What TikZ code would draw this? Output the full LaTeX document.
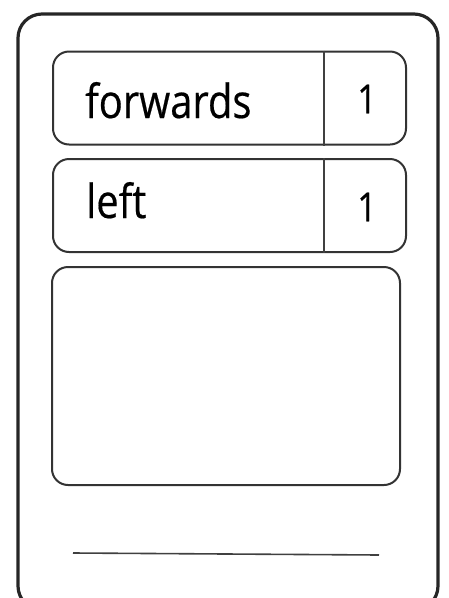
\documentclass[tikz,border=0pt]{standalone}
\usepackage{fontspec}
\setmainfont{Open Sans}
\newfontfamily\cardfont[FakeStretch=0.85, FakeBold=0.4]{Open Sans}
\usetikzlibrary{positioning}

\begin{document}
\begin{tikzpicture}[
    x=1pt, y=-1pt,
    card/.style={draw=black!85, line width=3.2pt, rounded corners=24pt},
    row/.style={draw=black!80, line width=2pt, rounded corners=16pt,
                inner sep=0pt, minimum width=353pt, minimum height=93pt},
    notebox/.style={draw=black!80, line width=2pt, rounded corners=16pt,
                inner sep=0pt, minimum width=348pt, minimum height=218pt},
    divider/.style={draw=black!75, line width=1.6pt},
    word/.style={font=\cardfont\fontsize{47}{52}\selectfont, anchor=base west, inner sep=0pt},
    num/.style={font=\cardfont\fontsize{40}{46}\selectfont},
]
\useasboundingbox (0,0) rectangle (448,598);

% outer card
\draw[card] (18,14) rectangle (438,610);

% command rows
\node[row] (fw) at (229.5,98) {};
\node[row] (lt) at (229.5,205.5) {};
\draw[divider] ([xshift=94.5pt]fw.north) -- ([xshift=94.5pt]fw.south);
\draw[divider] ([xshift=94.5pt]lt.north) -- ([xshift=94.5pt]lt.south);

\node[word] (fwtxt) at (85,118) {forwards};
\node[num] (fwnum) at (367,99) {1};
\node[word] (lttxt) at (86,218) {left};
\node[num] (ltnum) at (367,207) {1};

% empty drawing box
\node[notebox] (pic) at (226,376) {};

% name line
\coordinate (ls) at (73,553);
\coordinate (le) at (379,555);
\draw[divider] (ls) -- (le);

\end{tikzpicture}
\end{document}
